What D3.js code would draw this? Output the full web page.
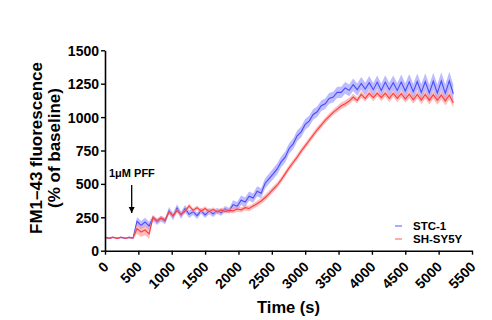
<!DOCTYPE html>
<html>
<head>
<meta charset="utf-8">
<script src="https://cdn.jsdelivr.net/npm/d3@7"></script>
<style>
  html, body { margin: 0; padding: 0; background: #fff; }
  svg { display: block; }
  text { font-family: "Liberation Sans", Arial, sans-serif; font-weight: bold; fill: #000; }
</style>
</head>
<body>
<svg id="chart" width="492" height="320"></svg>
<script>
// Sampling times (s), one frame every 60 s
const times = [
  0, 60, 120, 180, 240, 300, 360, 420, 480, 540, 600, 660, 720, 780, 840, 900,
  960, 1020, 1080, 1140, 1200, 1260, 1320, 1380, 1440, 1500, 1560, 1620, 1680, 1740, 1800, 1860,
  1920, 1980, 2040, 2100, 2160, 2220, 2280, 2340, 2400, 2460, 2520, 2580, 2640, 2700, 2760, 2820,
  2880, 2940, 3000, 3060, 3120, 3180, 3240, 3300, 3360, 3420, 3480, 3540, 3600, 3660, 3720, 3780,
  3840, 3900, 3960, 4020, 4080, 4140, 4200, 4260, 4320, 4380, 4440, 4500, 4560, 4620, 4680, 4740,
  4800, 4860, 4920, 4980, 5040, 5100, 5160, 5220
];

// STC-1 mean FM1-43 fluorescence (% of baseline) and SEM
const stcMean = [
  100, 92, 101, 93, 100, 92, 100, 95, 220, 190, 215, 185, 245, 215, 240, 220,
  300, 255, 320, 265, 315, 272, 292, 262, 300, 268, 296, 276, 298, 284, 312, 298,
  345, 332, 378, 364, 408, 394, 445, 430, 505, 540, 575, 612, 665, 700, 765, 800,
  860, 890, 945, 970, 1020, 1040, 1085, 1100, 1140, 1150, 1185, 1185, 1218, 1200, 1242, 1205,
  1252, 1210, 1258, 1205, 1262, 1200, 1262, 1205, 1258, 1200, 1262, 1195, 1264, 1190, 1266, 1185,
  1266, 1180, 1268, 1180, 1270, 1178, 1272, 1175
];
const stcSem = [
  6, 6, 6, 6, 6, 6, 6, 6, 32, 32, 32, 32, 22, 22, 22, 22,
  28, 28, 28, 28, 28, 28, 24, 24, 24, 24, 24, 24, 22, 22, 22, 22,
  32, 32, 35, 35, 35, 35, 38, 38, 38, 38, 40, 40, 40, 40, 40, 40,
  40, 40, 40, 40, 40, 40, 40, 40, 40, 40, 42, 42, 44, 44, 46, 46,
  48, 48, 50, 50, 50, 50, 52, 52, 54, 54, 56, 56, 58, 58, 60, 60,
  62, 62, 64, 64, 66, 66, 68, 68
];

// SH-SY5Y mean FM1-43 fluorescence (% of baseline) and SEM
const shMean = [
  100, 94, 100, 92, 101, 93, 99, 96, 165, 140, 155, 125, 250, 225, 245, 230,
  290, 262, 300, 272, 295, 335, 302, 322, 296, 316, 292, 310, 290, 305, 294, 302,
  298, 312, 306, 322, 316, 334, 352, 372, 398, 428, 460, 490, 530, 575, 620, 660,
  700, 745, 785, 825, 865, 905, 940, 975, 1005, 1035, 1060, 1085, 1100, 1120, 1150, 1125,
  1170, 1140, 1178, 1145, 1180, 1145, 1180, 1140, 1178, 1140, 1175, 1135, 1172, 1130, 1170, 1128,
  1170, 1125, 1168, 1125, 1165, 1120, 1165, 1105
];
const shSem = [
  6, 6, 6, 6, 6, 6, 6, 6, 38, 38, 38, 38, 16, 16, 16, 16,
  16, 16, 16, 16, 16, 16, 16, 16, 16, 16, 16, 16, 16, 16, 16, 16,
  20, 20, 20, 20, 20, 20, 22, 22, 22, 22, 22, 22, 22, 22, 22, 22,
  22, 22, 22, 22, 22, 22, 22, 22, 22, 22, 24, 24, 24, 24, 24, 24,
  26, 26, 26, 26, 26, 26, 28, 28, 28, 28, 28, 28, 30, 30, 30, 30,
  32, 32, 32, 32, 34, 34, 34, 34
];

const xTicks = [0, 500, 1000, 1500, 2000, 2500, 3000, 3500, 4000, 4500, 5000, 5500];
const yTicks = [0, 250, 500, 750, 1000, 1250, 1500];
const seriesNames = ["STC-1", "SH-SY5Y"];
const stimulusLabel = "1\u03BCM PFF";
const stimulusTime = 400;

const svg = d3.select("#chart");
const plot = { left: 105, right: 472, top: 50.3, bottom: 250.7 };

const x = d3.scaleLinear().domain([0, 5500]).range([plot.left, plot.right]);
const y = d3.scaleLinear().domain([0, 1500]).range([plot.bottom, plot.top]);

const series = [
  { name: seriesNames[0], mean: stcMean, sem: stcSem, line: "#4a4aff", band: "#8f8fff" },
  { name: seriesNames[1], mean: shMean, sem: shSem, line: "#ff3b3b", band: "#ff9191" }
];

const area = d3.area()
  .x(d => x(d.t))
  .y0(d => y(d.m - d.s))
  .y1(d => y(d.m + d.s));
const line = d3.line()
  .x(d => x(d.t))
  .y(d => y(d.m));

// Shaded SEM bands with mean traces
series.forEach(s => {
  const pts = times.map((t, i) => ({ t, m: s.mean[i], s: s.sem[i] }));
  svg.append("path").datum(pts)
    .attr("d", area)
    .attr("fill", s.band)
    .attr("fill-opacity", 0.6);
  svg.append("path").datum(pts)
    .attr("d", line)
    .attr("fill", "none")
    .attr("stroke", s.line)
    .attr("stroke-width", 1.1);
});

// Axes
const yAxis = svg.append("g")
  .attr("transform", `translate(${plot.left},0)`)
  .call(d3.axisLeft(y).tickValues(yTicks).tickSize(4).tickSizeOuter(0).tickFormat(d3.format("d")));
const xAxis = svg.append("g")
  .attr("transform", `translate(0,${plot.bottom})`)
  .call(d3.axisBottom(x).tickValues(xTicks).tickSize(4).tickSizeOuter(0).tickFormat(d3.format("d")));

[yAxis, xAxis].forEach(g => {
  g.select(".domain").attr("stroke", "#000").attr("stroke-width", 1.6);
  g.selectAll(".tick line").attr("stroke", "#000").attr("stroke-width", 1.4);
  g.selectAll(".tick text").attr("font-size", 14).attr("font-weight", "bold")
    .attr("font-family", "'Liberation Sans', Arial, sans-serif").attr("fill", "#000");
});
yAxis.selectAll(".tick text").attr("x", -6).attr("dy", "0.36em");
xAxis.selectAll(".tick text")
  .attr("text-anchor", "end")
  .attr("dy", null)
  .attr("y", 0)
  .attr("transform", "translate(4,17) rotate(-45)");

// Axis titles
svg.append("text")
  .attr("transform", `translate(42,148) rotate(-90)`)
  .attr("text-anchor", "middle")
  .attr("font-size", 17)
  .text("FM1\u201343 fluorescence");
svg.append("text")
  .attr("transform", `translate(60,148) rotate(-90)`)
  .attr("text-anchor", "middle")
  .attr("font-size", 17)
  .text("(% of baseline)");
svg.append("text")
  .attr("x", (plot.left + plot.right) / 2)
  .attr("y", 313)
  .attr("text-anchor", "middle")
  .attr("font-size", 16.5)
  .text("Time (s)");

// Stimulus annotation
svg.append("text")
  .attr("x", 109)
  .attr("y", 177)
  .attr("font-size", 11)
  .text(stimulusLabel);
const ax = x(stimulusTime);
svg.append("defs").append("marker")
  .attr("id", "arrowhead")
  .attr("viewBox", "0 0 10 10")
  .attr("refX", 10).attr("refY", 5)
  .attr("markerWidth", 5).attr("markerHeight", 5)
  .attr("orient", "auto")
  .append("path").attr("d", "M0,0 L10,5 L0,10 Z").attr("fill", "#000");
svg.append("line")
  .attr("x1", ax).attr("x2", ax)
  .attr("y1", 185).attr("y2", 213)
  .attr("stroke", "#000").attr("stroke-width", 1.3)
  .attr("marker-end", "url(#arrowhead)");

// Legend
const legend = svg.append("g");
series.forEach((s, i) => {
  const ly = 226 + i * 13;
  legend.append("line")
    .attr("x1", 395).attr("x2", 402)
    .attr("y1", ly).attr("y2", ly)
    .attr("stroke", s.band).attr("stroke-width", 1.5);
  legend.append("text")
    .attr("x", 413).attr("y", ly + 4)
    .attr("font-size", 11.5)
    .text(s.name);
});
</script>
</body>
</html>
